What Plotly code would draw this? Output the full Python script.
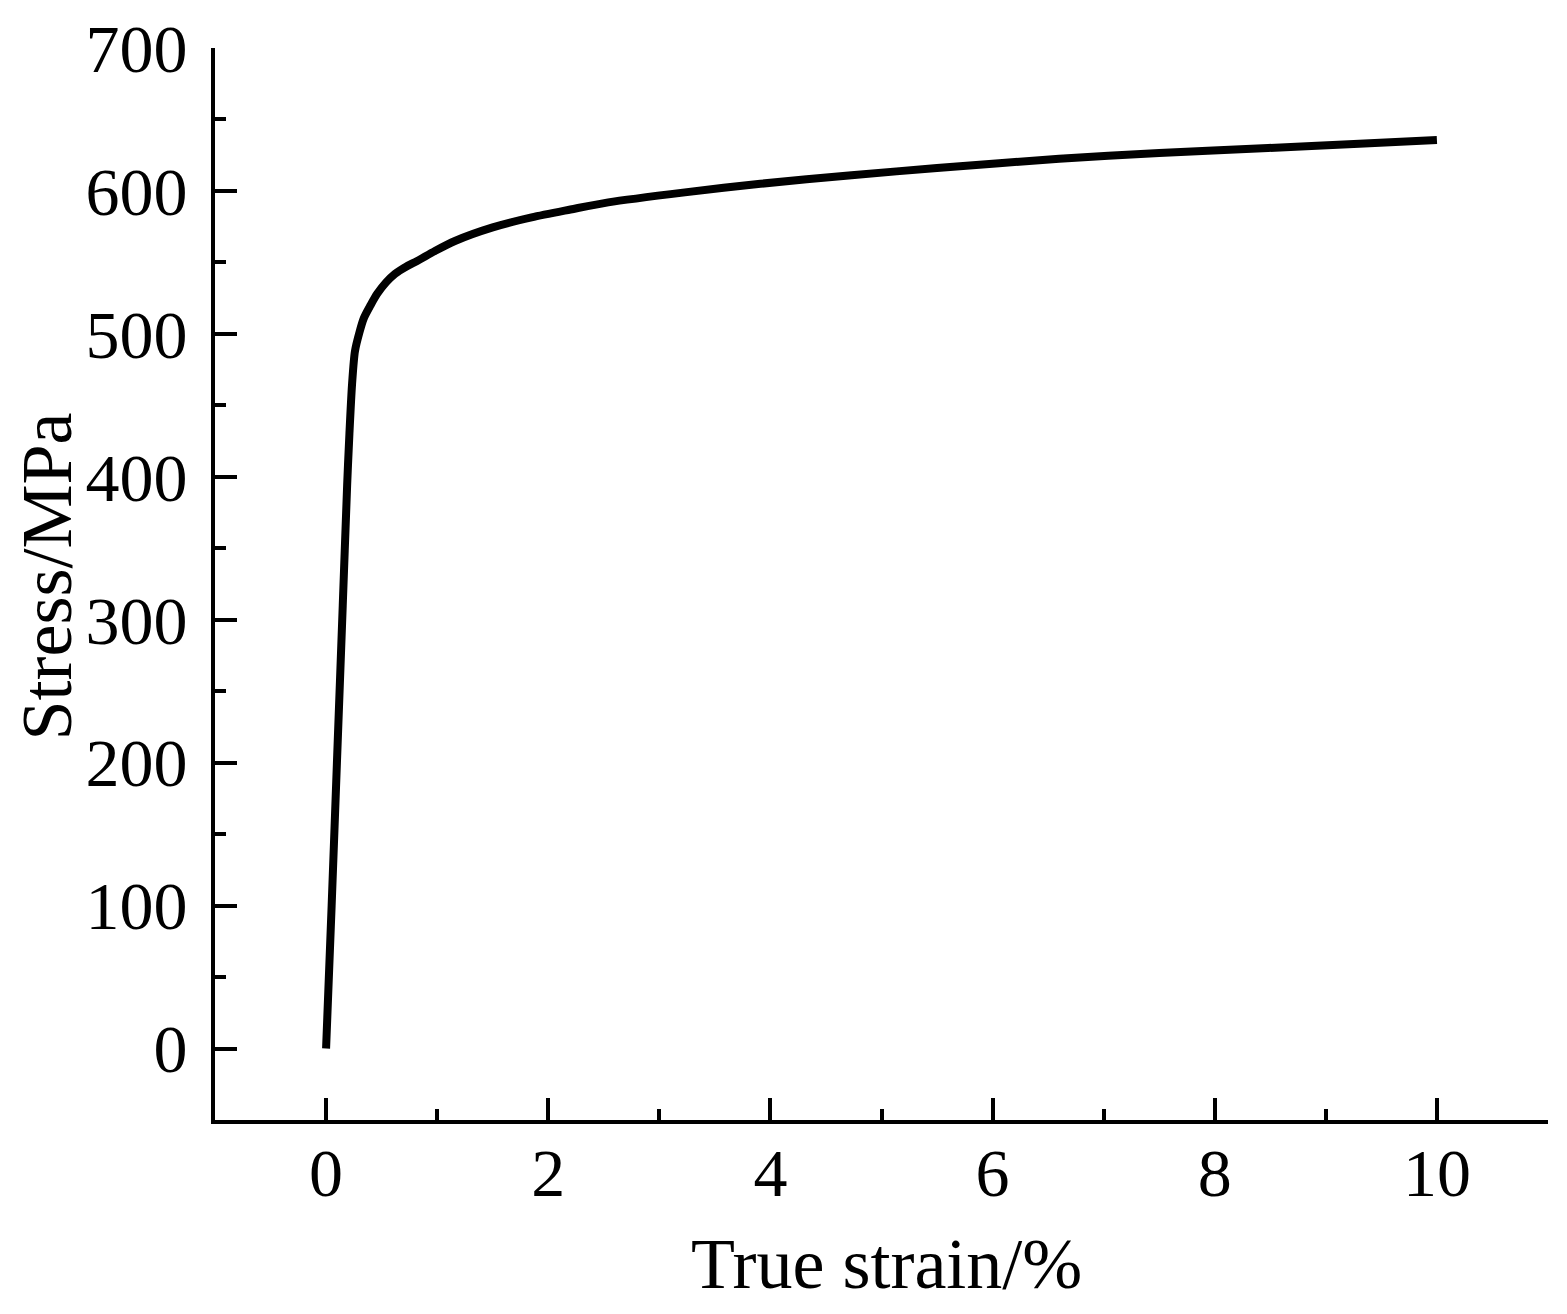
import plotly.graph_objects as go

# true strain (%) vs stress (MPa)
strain = [0, 0.05, 0.10, 0.15, 0.19, 0.21, 0.234, 0.26, 0.30, 0.34, 0.40, 0.46,
          0.54, 0.62, 0.72, 0.82, 0.98, 1.16, 1.50, 1.85, 2.20, 2.54, 3.23,
          3.91, 4.73, 5.50, 6.60, 7.50, 8.48, 9.30, 10.0]
stress = [0, 100, 205, 310, 395, 430, 465, 488, 501, 511, 520, 528,
          536, 542, 547, 551, 558, 565, 574.5, 581.5, 587, 592, 599,
          605, 611, 616, 622.5, 626.5, 630, 633, 635.7]

x_ticks = [0, 2, 4, 6, 8, 10]
y_ticks = [0, 100, 200, 300, 400, 500, 600, 700]

FONT = 'Liberation Serif, Times New Roman, serif'

fig = go.Figure()
fig.add_trace(go.Scatter(
    x=strain,
    y=stress,
    mode='lines',
    line=dict(color='#000000', width=8, shape='spline', smoothing=0.8),
    showlegend=False
))

axis_common = dict(
    showline=True,
    linecolor='#000000',
    linewidth=4,
    showgrid=False,
    zeroline=False,
    ticks='inside',
    ticklen=22,
    tickwidth=4,
    tickcolor='#000000',
    tickfont=dict(family=FONT, size=68, color='#000000'),
    mirror=False,
    automargin=False,
)

fig.update_xaxes(
    range=[-1, 11],
    tickvals=x_ticks,
    minor=dict(ticks='inside', ticklen=11, tickwidth=4, tickcolor='#000000',
               dtick=1, tick0=0),
    ticklabelstandoff=-10,
    **axis_common
)
fig.update_yaxes(
    range=[-50, 700],
    tickvals=y_ticks,
    minor=dict(ticks='inside', ticklen=11, tickwidth=4, tickcolor='#000000',
               dtick=50, tick0=0),
    ticklabelstandoff=10,
    **axis_common
)

fig.add_annotation(
    text='True strain/%', xref='paper', yref='paper',
    x=0.5037, y=-0.134, xanchor='center', yanchor='middle',
    showarrow=False, font=dict(family=FONT, size=72, color='#000000')
)
fig.add_annotation(
    text='Stress/MPa', xref='paper', yref='paper',
    x=-0.1253, y=0.507, xanchor='center', yanchor='middle', textangle=-90,
    showarrow=False, font=dict(family=FONT, size=72, color='#000000')
)

# the page body adds an 8px offset, so margins are shifted to compensate
fig.update_layout(
    width=1567,
    height=1314,
    margin=dict(l=207, r=27, t=40, b=202),
    plot_bgcolor='#ffffff',
    paper_bgcolor='#ffffff',
    font=dict(family=FONT, color='#000000'),
)

fig.write_html("out.html")
